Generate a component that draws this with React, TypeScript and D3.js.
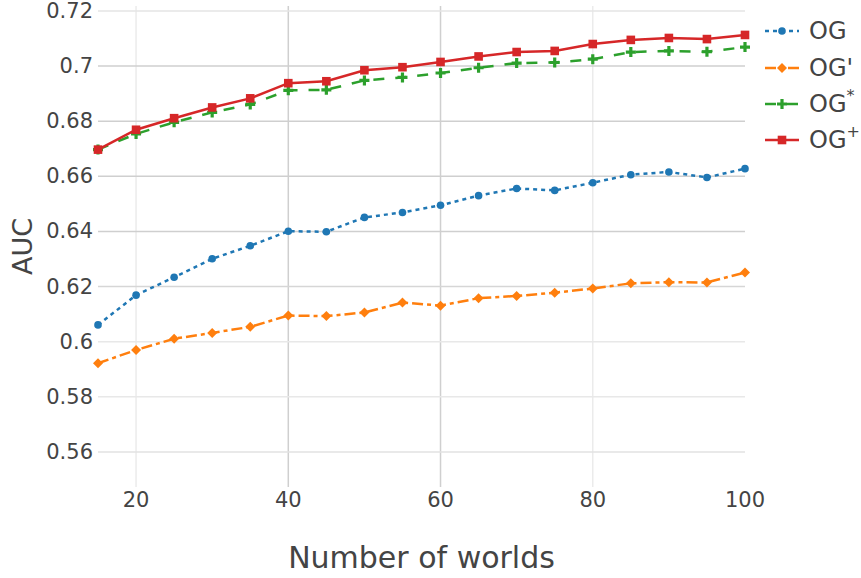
import React from "react";
import * as d3 from "d3";

const xValues = [15, 20, 25, 30, 35, 40, 45, 50, 55, 60, 65, 70, 75, 80, 85, 90, 95, 100];
const ogValues = [0.6061, 0.6169, 0.6234, 0.6301, 0.6348, 0.6401, 0.6399, 0.6451, 0.6469, 0.6495, 0.653, 0.6556, 0.6549, 0.6577, 0.6606, 0.6616, 0.6596, 0.6628];
const ogPrimeValues = [0.5922, 0.597, 0.6011, 0.6032, 0.6054, 0.6095, 0.6093, 0.6106, 0.6142, 0.6131, 0.6158, 0.6166, 0.6178, 0.6193, 0.6212, 0.6216, 0.6215, 0.6251];
const ogStarValues = [0.6697, 0.6754, 0.6796, 0.6832, 0.6861, 0.6912, 0.6914, 0.6948, 0.6959, 0.6975, 0.6994, 0.7011, 0.7013, 0.7025, 0.7051, 0.7055, 0.7052, 0.7069];
const ogPlusValues = [0.6697, 0.6769, 0.6811, 0.685, 0.6883, 0.6938, 0.6945, 0.6985, 0.6996, 0.7015, 0.7035, 0.7051, 0.7055, 0.708, 0.7095, 0.7102, 0.7098, 0.7113];

const xTicks = [20, 40, 60, 80, 100];
const yTicks = [0.56, 0.58, 0.6, 0.62, 0.64, 0.66, 0.68, 0.7, 0.72];
const seriesNames = ["OG", "OG'", "OG", "OG"];
const seriesSups = ["", "", "*", "+"];

const W = 861;
const H = 578;
const plot = { left: 98, right: 745, top: 6, bottom: 487 };
const FONT = "'DejaVu Sans', Verdana, sans-serif";
const TXT = "#444";

const styles = [
  { color: "#1f77b4", dash: "4,4", marker: "circle" },
  { color: "#ff7f0e", dash: "11,4,4,4", marker: "diamond" },
  { color: "#2ca02c", dash: "11,11", marker: "cross" },
  { color: "#d62728", dash: "", marker: "square" },
];

const vGridColor: Record<number, string> = { 20: "#ebebeb", 40: "#cfcfcf", 60: "#cfcfcf", 80: "#ebebeb", 100: "none" };
const hGridColor: Record<string, string> = {
  "0.56": "#e2e2e2", "0.58": "#e8e8e8", "0.6": "#e8e8e8", "0.62": "#d6d6d6",
  "0.64": "#cfcfcf", "0.66": "#cfcfcf", "0.68": "#cfcfcf", "0.7": "#cfcfcf", "0.72": "#e4e4e4",
};

function Marker({ kind, x, y, color }: { kind: string; x: number; y: number; color: string }) {
  if (kind === "circle") return <circle cx={x} cy={y} r={3.8} fill={color} />;
  if (kind === "diamond") {
    const s = 5;
    return <path d={`M${x},${y - s}L${x + s},${y}L${x},${y + s}L${x - s},${y}Z`} fill={color} />;
  }
  if (kind === "cross") {
    const s = 5, t = 1.6;
    return (
      <path
        d={`M${x - t},${y - s}H${x + t}V${y - t}H${x + s}V${y + t}H${x + t}V${y + s}H${x - t}V${y + t}H${x - s}V${y - t}H${x - t}Z`}
        fill={color}
      />
    );
  }
  const s = 4.3;
  return <rect x={x - s} y={y - s} width={2 * s} height={2 * s} fill={color} />;
}

export default function App() {
  const x = d3.scaleLinear().domain([15, 100]).range([plot.left, plot.right]);
  const y = d3.scaleLinear().domain([0.5473, 0.7218]).range([plot.bottom, plot.top]);
  const series = [ogValues, ogPrimeValues, ogStarValues, ogPlusValues];
  const line = d3
    .line<number>()
    .x((_, i) => x(xValues[i]))
    .y((d) => y(d));

  const legendY = [31, 68, 104, 140];

  return (
    <svg width={W} height={H} style={{ position: "absolute", left: 0, top: 0, background: "#fff" }} fontFamily={FONT}>
      {xTicks.map((t) => (
        vGridColor[t] !== "none" ? (
          <line key={"vx" + t} x1={x(t)} x2={x(t)} y1={plot.top} y2={plot.bottom} stroke={vGridColor[t]} strokeWidth={1.5} />
        ) : null
      ))}
      {yTicks.map((t) => (
        <line key={"hy" + t} x1={plot.left} x2={plot.right} y1={y(t)} y2={y(t)} stroke={hGridColor[String(t)]} strokeWidth={1.5} />
      ))}
      {xTicks.map((t) => (
        <text key={"xt" + t} x={x(t)} y={500} textAnchor="middle" dominantBaseline="central" fontSize={21} fill={TXT}>
          {t}
        </text>
      ))}
      {yTicks.map((t) => (
        <text key={"yt" + t} x={plot.left - 5} y={y(t)} textAnchor="end" dominantBaseline="central" fontSize={21} fill={TXT}>
          {String(t)}
        </text>
      ))}
      <text x={(plot.left + plot.right) / 2} y={557} textAnchor="middle" dominantBaseline="central" fontSize={30} fill={TXT}>
        Number of worlds
      </text>
      <text transform={`translate(22,${(plot.top + plot.bottom) / 2}) rotate(-90)`} textAnchor="middle" dominantBaseline="central" fontSize={27} fill={TXT}>
        AUC
      </text>
      <g>
        {series.map((vals, si) => (
          <g key={"s" + si}>
            <path d={line(vals) || ""} fill="none" stroke={styles[si].color} strokeWidth={2.5} strokeDasharray={styles[si].dash} />
            {vals.map((v, i) => (
              <Marker key={i} kind={styles[si].marker} x={x(xValues[i])} y={y(v)} color={styles[si].color} />
            ))}
          </g>
        ))}
      </g>
      {seriesNames.map((name, si) => (
        <g key={"lg" + si}>
          <line x1={765} x2={799} y1={legendY[si]} y2={legendY[si]} stroke={styles[si].color} strokeWidth={2.5} strokeDasharray={styles[si].dash} />
          <Marker kind={styles[si].marker} x={782} y={legendY[si]} color={styles[si].color} />
          <text x={809} y={legendY[si]} dominantBaseline="central" fontSize={24} fill={TXT}>
            {name}
            {seriesSups[si] ? (
              <tspan fontSize={16} dy={-9}>{seriesSups[si]}</tspan>
            ) : null}
          </text>
        </g>
      ))}
    </svg>
  );
}
